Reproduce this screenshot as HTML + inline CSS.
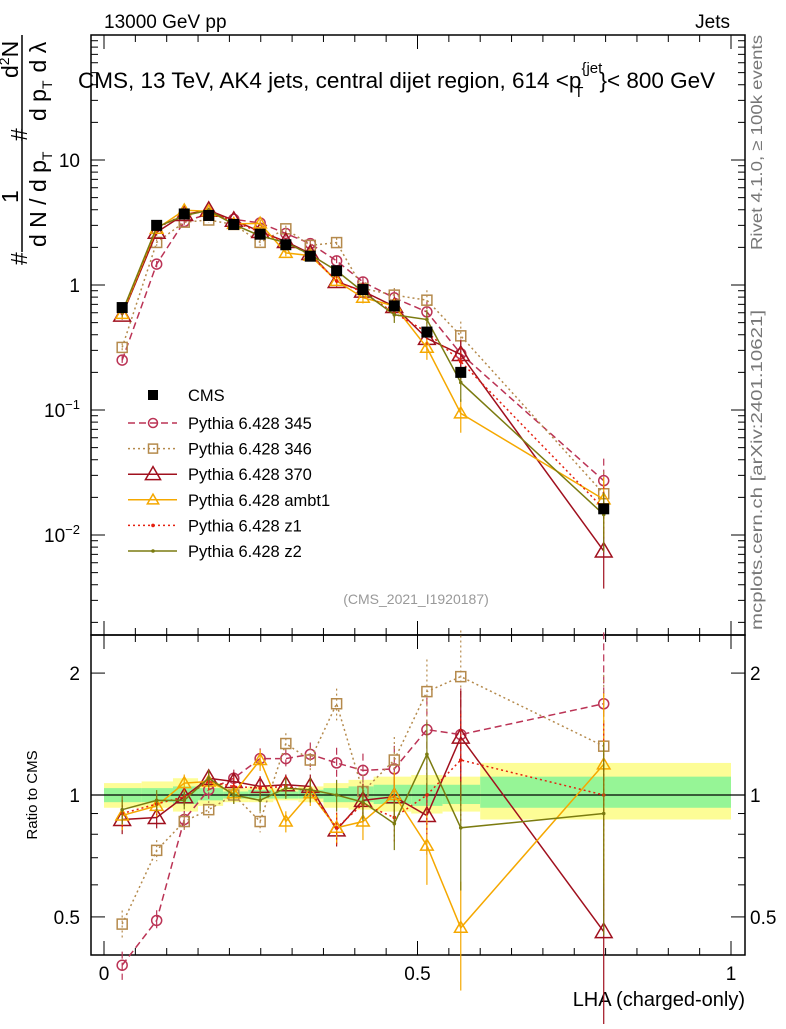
<!DOCTYPE html>
<html><head><meta charset="utf-8"><style>
body{margin:0;background:#fff}
svg{font-family:"Liberation Sans",sans-serif}
</style></head><body>
<svg id="c" width="786" height="1024" xmlns="http://www.w3.org/2000/svg">
<text x="104" y="28" font-size="19">13000 GeV pp</text>
<text x="730" y="28" font-size="19" text-anchor="end">Jets</text>
<text x="78" y="88" font-size="22.5">CMS, 13 TeV, AK4 jets, central dijet region, 614 &lt;p<tspan font-size="15" dy="-15">{jet</tspan><tspan font-size="15" dx="-28" dy="24">T</tspan><tspan dx="16" dy="-9">}&lt; 800 GeV</tspan></text>
<g transform="rotate(-90)" font-size="23">
<text x="-265" y="27">#</text>
<line x1="-252" y1="22" x2="-35" y2="22" stroke="#000" stroke-width="1.5"/>
<text x="-203" y="18">1</text>
<text x="-141" y="27">#</text>
<text x="-78" y="18">d<tspan font-size="14" dy="-9">2</tspan><tspan dy="9">N</tspan></text>
<text x="-247" y="46">d N / d p<tspan font-size="14" dy="6">T</tspan></text>
<text x="-121" y="46">d p<tspan font-size="14" dy="6">T</tspan><tspan dx="8" dy="-6">d λ</tspan></text>
</g>
<text transform="translate(762,250) rotate(-90)" font-size="16" fill="#777" textLength="215" lengthAdjust="spacingAndGlyphs">Rivet 4.1.0, ≥ 100k events</text>
<text transform="translate(762,630) rotate(-90)" font-size="16" fill="#777" textLength="320" lengthAdjust="spacingAndGlyphs">mcplots.cern.ch [arXiv:2401.10621]</text>
<text x="416" y="604" font-size="14" fill="#999" text-anchor="middle">(CMS_2021_I1920187)</text>
<text transform="translate(37,795) rotate(-90)" font-size="15" text-anchor="middle">Ratio to CMS</text>
<text x="745" y="1006" font-size="20" text-anchor="end">LHA (charged-only)</text>
</svg>
<script>
const xs=[0.029,0.084,0.128,0.167,0.207,0.249,0.290,0.329,0.371,0.413,0.463,0.515,0.569,0.797];
const cms=[0.66,3.0,3.7,3.6,3.05,2.55,2.1,1.7,1.3,0.92,0.68,0.42,0.2,0.0162];
const binEdges=[0,0.06,0.11,0.15,0.19,0.23,0.27,0.31,0.35,0.39,0.43,0.49,0.54,0.6,1.0];
const yelLo=[0.93,0.93,0.91,0.94,0.96,0.96,0.97,0.96,0.93,0.92,0.91,0.9,0.91,0.87];
const yelHi=[1.07,1.08,1.1,1.07,1.04,1.05,1.04,1.05,1.07,1.09,1.11,1.12,1.11,1.2];
const grnLo=[0.96,0.96,0.95,0.97,0.98,0.98,0.98,0.98,0.96,0.96,0.95,0.94,0.95,0.93];
const grnHi=[1.04,1.04,1.05,1.04,1.02,1.03,1.02,1.03,1.04,1.05,1.06,1.06,1.06,1.11];
const r345=[0.38,0.49,0.87,1.03,1.10,1.23,1.23,1.26,1.20,1.15,1.16,1.45,1.41,1.68];
const r346=[0.48,0.73,0.86,0.92,1.0,0.86,1.34,1.22,1.68,1.02,1.22,1.80,1.96,1.32];
const r370=[0.87,0.88,0.99,1.10,1.08,1.05,1.06,1.05,0.82,0.97,0.99,0.89,1.39,0.46];
const rambt1=[0.89,0.94,1.07,1.08,1.01,1.22,0.86,1.01,0.83,0.86,1.0,0.75,0.47,1.19];
const rz1=[0.90,0.95,0.99,1.08,1.05,1.04,1.05,1.02,0.83,0.95,0.88,1.0,1.22,1.0];
const rz2=[0.92,0.97,0.97,1.10,1.0,0.97,1.04,1.03,1.0,0.96,0.85,1.26,0.83,0.90];
const relErr=[0.08,0.06,0.05,0.05,0.05,0.06,0.06,0.07,0.09,0.1,0.14,0.2,0.3,0.5];
const yTicks=[0.01,0.1,1,10];
const yTickLabels=["10^-2","10^-1","1","10"];
const rTicks=[0.5,1,2];
const xTicks=[0,0.5,1];

const svg=document.getElementById('c');const NS='http://www.w3.org/2000/svg';
const X=v=>104+627*v;
const Y=v=>285-125*Math.log10(v);
const R=v=>795-405*Math.log10(v);
function mk(t,a,p){const e=document.createElementNS(NS,t);for(const k in a)e.setAttribute(k,a[k]);(p||svg).appendChild(e);return e;}
const band=mk('g',{});


for(let i=0;i<binEdges.length-1;i++){
 mk('rect',{x:X(binEdges[i]),y:R(yelHi[i]),width:X(binEdges[i+1])-X(binEdges[i]),height:R(yelLo[i])-R(yelHi[i]),fill:'#fdfd96'},band);
 mk('rect',{x:X(binEdges[i]),y:R(grnHi[i]),width:X(binEdges[i+1])-X(binEdges[i]),height:R(grnLo[i])-R(grnHi[i]),fill:'#96f596'},band);
}
mk('line',{x1:91,x2:745,y1:R(1),y2:R(1),stroke:'#000','stroke-width':1.2});
const f1=mk('rect',{x:91,y:35,width:654,height:600,fill:'none',stroke:'#000','stroke-width':1.5});


const f2=mk('rect',{x:91,y:635,width:654,height:320,fill:'none',stroke:'#000','stroke-width':1.5});


for(let d=-3;d<=1;d++)for(let m=1;m<10;m++){const v=m*Math.pow(10,d);const y=Y(v);if(y<35||y>635)continue;const L=m==1?14:7;
 mk('line',{x1:91,x2:91+L,y1:y,y2:y,stroke:'#000'});mk('line',{x1:745,x2:745-L,y1:y,y2:y,stroke:'#000'});}
yTicks.forEach((v,i)=>{const s=yTickLabels[i];const t=mk('text',{x:80,y:Y(v)+7,'font-size':19,'text-anchor':'end'});
 if(s.includes('^')){const [b,e]=s.split('^');t.textContent=b;const ts=mk('tspan',{dy:-8,'font-size':13},t);ts.textContent=e.replace('-','−');}else t.textContent=s;
 
 });
for(let d=-1;d<=0;d++)for(let m=1;m<10;m++){const v=m*Math.pow(10,d);const y=R(v);if(y<635||y>955)continue;const L=(v==0.5||v==1||v==2)?14:7;
 mk('line',{x1:91,x2:91+L,y1:y,y2:y,stroke:'#000'});mk('line',{x1:745,x2:745-L,y1:y,y2:y,stroke:'#000'});}
rTicks.forEach(v=>{const t=mk('text',{x:80,y:R(v)+7,'font-size':19,'text-anchor':'end'});t.textContent=v;
 
 
 const t2=mk('text',{x:750,y:R(v)+7,'font-size':19});t2.textContent=v;
 
 });
for(let i=0;i<=20;i++){const v=i*0.05;const L=i%10==0?14:7;const x=X(v);
 [[35,1],[635,-1],[635,1],[955,-1]].forEach(([y0,s])=>mk('line',{x1:x,x2:x,y1:y0,y2:y0+s*L,stroke:'#000'}));}
xTicks.forEach(v=>{const t=mk('text',{x:X(v),y:980,'font-size':19,'text-anchor':'middle'});t.textContent=v;
 
 });
const series=[
 {n:'345',r:r345,c:'#bb3355',d:'7,4',m:'circle',s:1},
 {n:'346',r:r346,c:'#b58a4c',d:'2,3',m:'square',s:1},
 {n:'370',r:r370,c:'#a0101e',d:'',m:'tri',s:1.2},
 {n:'ambt1',r:rambt1,c:'#f5a800',d:'',m:'tri',s:0.9},
 {n:'z1',r:rz1,c:'#e52010',d:'2,3',m:'dot',s:1},
 {n:'z2',r:rz2,c:'#7b7b10',d:'',m:'dot',s:1}];
function marker(g,m,x,y,c,k){k=k||1;
 if(m=='circle')mk('circle',{cx:x,cy:y,r:5*k,fill:'none',stroke:c,'stroke-width':1.5},g);
 else if(m=='square')mk('rect',{x:x-5*k,y:y-5*k,width:10*k,height:10*k,fill:'none',stroke:c,'stroke-width':1.5},g);
 else if(m=='tri')mk('polygon',{points:`${x},${y-7*k} ${x-7*k},${y+5*k} ${x+7*k},${y+5*k}`,fill:'none',stroke:c,'stroke-width':1.5},g);
 else mk('circle',{cx:x,cy:y,r:1.8,fill:c},g);
}
series.forEach(s=>{
 [['main',Y],['ratio',R]].forEach(([pn,F])=>{
  const g=mk('g',{});
  
  
  const vals=s.r.map((r,i)=>pn=='main'?r*cms[i]:r);
  mk('polyline',{points:vals.map((v,i)=>X(xs[i])+','+F(v)).join(' '),fill:'none',stroke:s.c,'stroke-width':1.5,'stroke-dasharray':s.d},g);
  vals.forEach((v,i)=>{const e=relErr[i];const x=X(xs[i]);
   mk('line',{x1:x,x2:x,y1:F(v*(1+e)),y2:F(Math.max(v*(1-e),1e-4)),stroke:s.c,'stroke-width':1.2,'stroke-dasharray':s.d},g);
   marker(g,s.m,x,F(v),s.c,s.s);});
 });
});
const cg=mk('g',{});


cms.forEach((v,i)=>{const x=X(xs[i]),y=Y(v);mk('rect',{x:x-5.5,y:y-5.5,width:11,height:11,fill:'#000'},cg);});
const lg=mk('g',{});


mk('rect',{x:148,y:390,width:10,height:10,fill:'#000'},lg);
let t=mk('text',{x:188,y:401,'font-size':16.5},lg);t.textContent='CMS';
series.forEach((s,i)=>{const y=423+25.6*i;
 const e=mk('g',{},lg);
 
 
 mk('line',{x1:128,x2:177,y1:y,y2:y,stroke:s.c,'stroke-width':1.5,'stroke-dasharray':s.d},e);
 marker(e,s.m,153,y,s.c,s.s*0.9);
 const tt=mk('text',{x:188,y:y+6,'font-size':16.5},e);tt.textContent='Pythia 6.428 '+s.n;});
</script>
</body></html>
